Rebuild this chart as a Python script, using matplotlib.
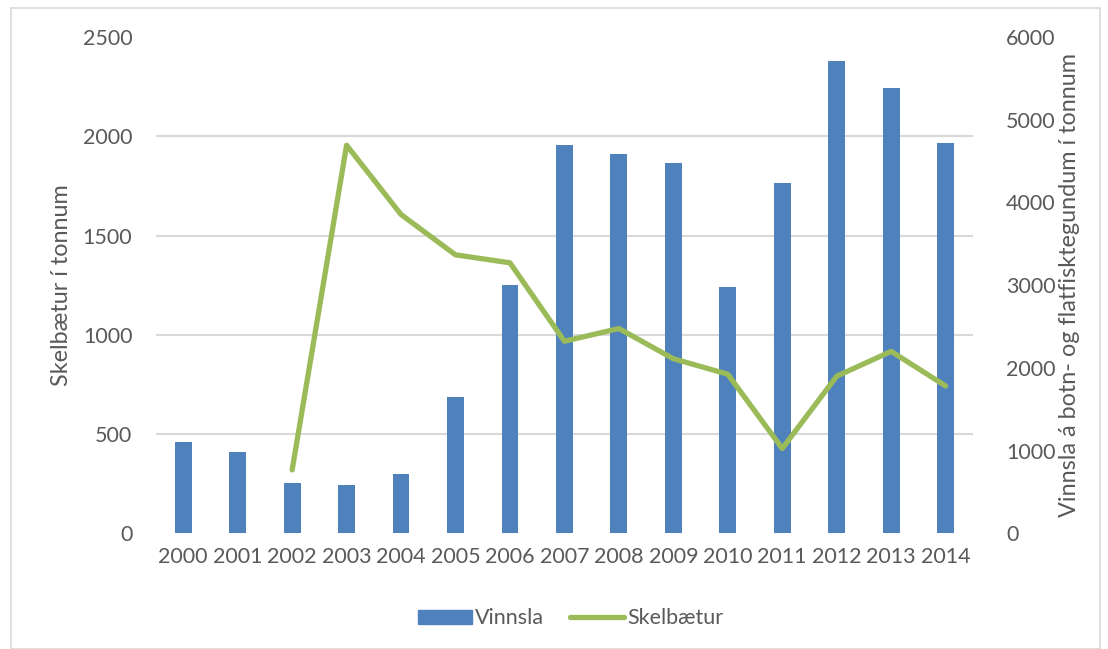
import numpy as np
import matplotlib.pyplot as plt
from matplotlib.patches import Rectangle
from matplotlib.lines import Line2D

years = ['2000', '2001', '2002', '2003', '2004', '2005', '2006', '2007',
         '2008', '2009', '2010', '2011', '2012', '2013', '2014']
# Vinnsla á botn- og flatfisktegundum (hægri ás)
vinnsla = [1107, 986, 612, 584, 714, 1650, 3000, 4693,
           4580, 4474, 2979, 4236, 5707, 5383, 4722]
# Skelbætur (vinstri ás)
skelbaetur = [np.nan, np.nan, 320, 1955, 1606, 1403, 1363, 968,
              1032, 880, 802, 428, 792, 917, 743]

left_ticks = np.arange(0, 2501, 500)
right_ticks = np.arange(0, 6001, 1000)

BLUE = '#4F81BD'
GREEN = '#9BBB59'
TXT = '#595959'
GRID = '#D9D9D9'
FS = 15.5

plt.rcParams['font.family'] = ['Lato', 'DejaVu Sans']

fig = plt.figure(figsize=(11.08, 6.49), dpi=100)
fig.patches.append(Rectangle((11 / 1108, 0), 1089 / 1108, 1 - 8 / 649, transform=fig.transFigure,
                             fill=False, edgecolor=GRID, linewidth=1.2))

ax = fig.add_axes([0.1408, 0.178, 0.878 - 0.1408, 0.943 - 0.178])
ax2 = ax.twinx()
x = np.arange(len(years))

# súlur á hægri ás (neðri ás svo gridlínur séu fyrir aftan)
ax.bar(x, vinnsla, width=0.31, color=BLUE, zorder=2)
ax.set_ylim(0, 6000)
ax.set_xlim(-0.5, len(years) - 0.5)
ax.yaxis.tick_right()
ax.yaxis.set_label_position('right')
ax.set_yticks(right_ticks)
ax.set_yticks(left_ticks * 6000 / 2500, minor=True)
ax.yaxis.set_minor_formatter(plt.NullFormatter())
ax.grid(which='minor', axis='y', color=GRID, linewidth=1.5, zorder=0)
ax.grid(which='major', visible=False)
ax.set_axisbelow(True)
ax.tick_params(axis='y', which='both', length=0, labelsize=FS, labelcolor=TXT, pad=24)
ax.set_xticks(x)
ax.set_xticklabels(years)
ax.tick_params(axis='x', length=0, labelsize=FS, labelcolor=TXT, pad=10)
ax.set_ylabel('Vinnsla á botn- og flatfisktegundum í tonnum', fontsize=16.8, color=TXT, labelpad=2)
for s in ax.spines.values():
    s.set_visible(False)

# lína á vinstri ás
ax2.plot(x, skelbaetur, color=GREEN, linewidth=3.8, solid_capstyle='round',
         solid_joinstyle='round', zorder=3)
ax2.set_ylim(0, 2500)
ax2.yaxis.tick_left()
ax2.yaxis.set_label_position('left')
ax2.set_yticks(left_ticks)
ax2.tick_params(axis='y', length=0, labelsize=FS, labelcolor=TXT, pad=17)
ax2.set_ylabel('Skelbætur í tonnum', fontsize=16.8, color=TXT, labelpad=8)
for s in ax2.spines.values():
    s.set_visible(False)

handles = [Rectangle((0, 0), 1, 1, color=BLUE),
           Line2D([0], [0], color=GREEN, linewidth=3.8, solid_capstyle='round')]
leg = fig.legend(handles, ['Vinnsla', 'Skelbætur'], loc='center', bbox_to_anchor=(0.515, 0.047),
                 ncol=2, frameon=False, fontsize=FS, handlelength=2.5, handleheight=0.6,
                 handletextpad=0.15, columnspacing=1.2)
for t in leg.get_texts():
    t.set_color(TXT)

fig.savefig('out.png', dpi=100)
